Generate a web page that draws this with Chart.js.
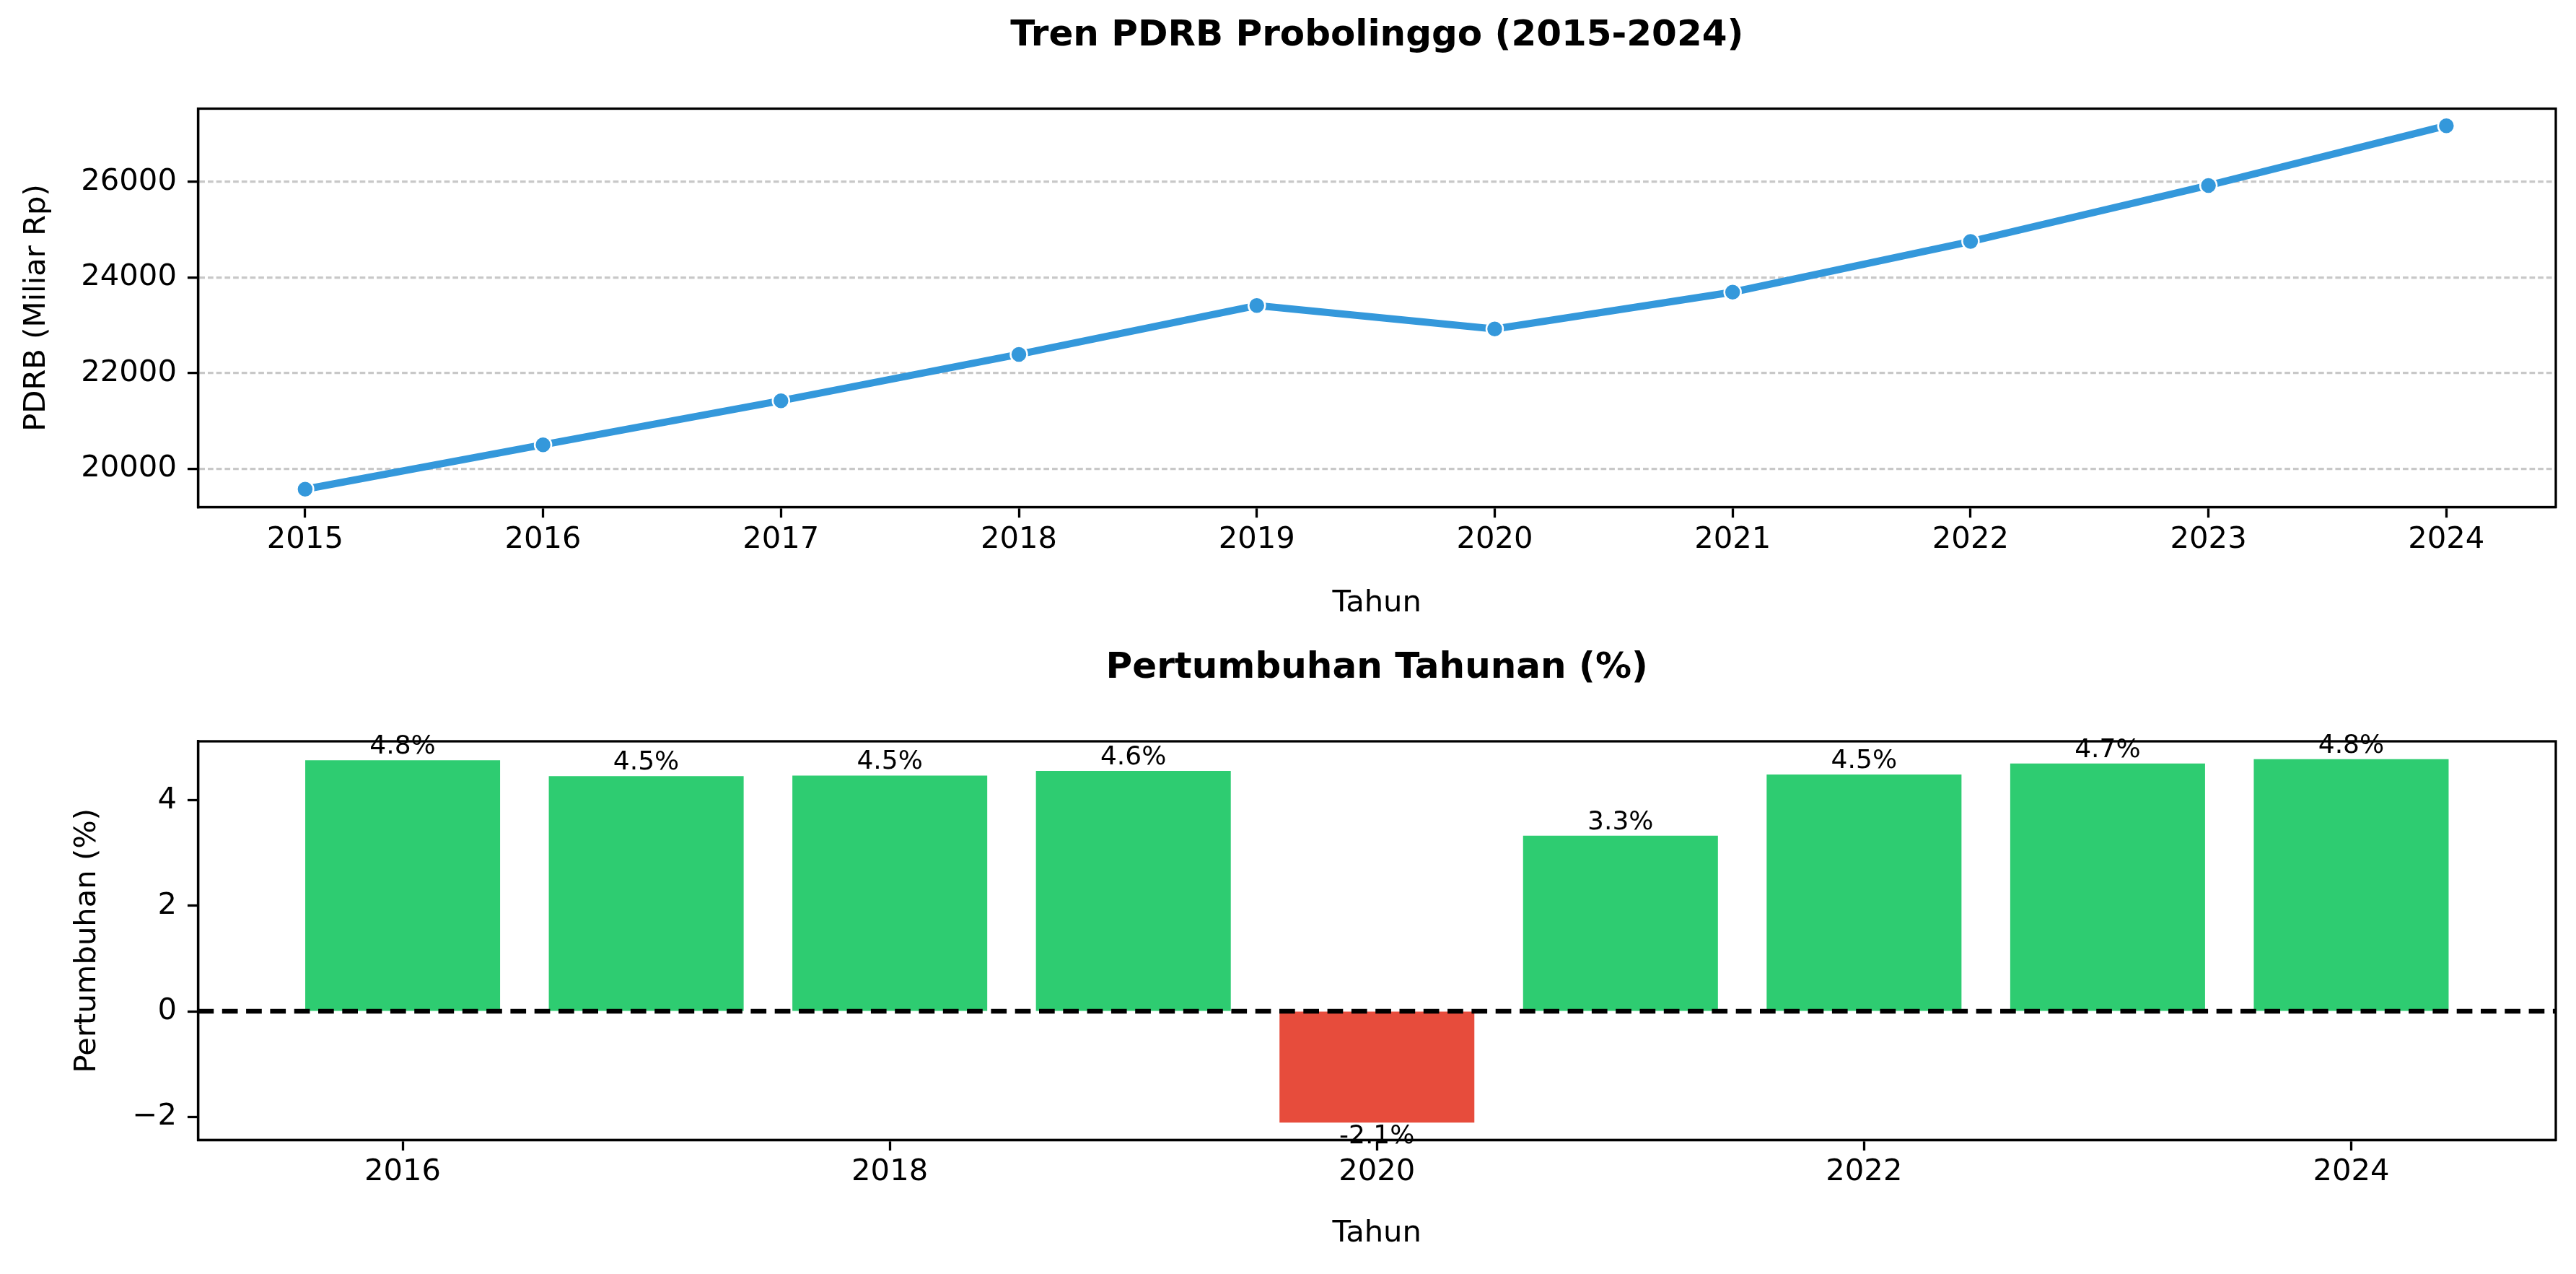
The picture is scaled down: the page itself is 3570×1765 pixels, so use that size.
<!DOCTYPE html>
<html lang="id">
<head>
    <meta charset="UTF-8">
    <title>Tren PDRB Probolinggo (2015-2024)</title>
    <script src="https://cdn.jsdelivr.net/npm/chart.js"></script>
    <style>
        html, body {
            margin: 0;
            padding: 0;
            background: #fff;
        }
        .figure {
            position: relative;
            width: 3570px;
            height: 1765px;
        }
        .panel {
            position: absolute;
            left: 0;
            width: 3570px;
        }
        #trendBox { top: 0; height: 880px; }
        #growthBox { top: 880px; height: 885px; }
    </style>
</head>
<body>
    <div class="figure">
        <div class="panel" id="trendBox"><canvas id="trendChart"></canvas></div>
        <div class="panel" id="growthBox"><canvas id="growthChart"></canvas></div>
    </div>

    <script>
    // --- data ---
    const years = [2015, 2016, 2017, 2018, 2019, 2020, 2021, 2022, 2023, 2024];
    const pdrbValues = [19570, 20500, 21420, 22390, 23410, 22920, 23690, 24750, 25920, 27170];
    const pdrbTicks = [20000, 22000, 24000, 26000];

    const growthYears = [2016, 2017, 2018, 2019, 2020, 2021, 2022, 2023, 2024];
    const growthValues = [4.76, 4.46, 4.47, 4.56, -2.11, 3.33, 4.49, 4.70, 4.78];
    const growthTicks = [-2, 0, 2, 4];
    const growthYearTicks = [2016, 2018, 2020, 2022, 2024];

    // --- shared look (matplotlib-ish at 300 dpi) ---
    Chart.defaults.font.family = "'DejaVu Sans', sans-serif";
    Chart.defaults.color = '#000';
    Chart.defaults.animation = false;

    const TICK_FONT = 41.7;
    const SPINE_W = 3.3;
    const TICK_LEN = 14.6;

    function fixedTicks(values) {
        return scale => { scale.ticks = values.map(v => ({ value: v })); };
    }

    function fmtMinus(v) {
        return v < 0 ? '\u2212' + Math.abs(v) : String(v);
    }

    // box around the plot area, like matplotlib spines
    const framePlugin = {
        id: 'frame',
        afterDraw(chart) {
            const { ctx, chartArea: a } = chart;
            ctx.save();
            ctx.strokeStyle = '#000';
            ctx.lineWidth = SPINE_W;
            ctx.strokeRect(a.left, a.top, a.right - a.left, a.bottom - a.top);
            ctx.restore();
        }
    };

    // dashed line at zero
    const zeroLinePlugin = {
        id: 'zeroLine',
        afterDatasetsDraw(chart) {
            const { ctx, chartArea: a } = chart;
            const y = chart.scales.y.getPixelForValue(0);
            ctx.save();
            ctx.strokeStyle = '#000';
            ctx.lineWidth = 6.5;
            ctx.setLineDash([21.7, 11.6]);
            ctx.beginPath();
            ctx.moveTo(a.left, y);
            ctx.lineTo(a.right, y);
            ctx.stroke();
            ctx.restore();
        }
    };

    // "4.8%" labels on the bars
    const barLabelPlugin = {
        id: 'barLabels',
        afterDatasetsDraw(chart) {
            const { ctx } = chart;
            const meta = chart.getDatasetMeta(0);
            ctx.save();
            ctx.font = "36px 'DejaVu Sans', sans-serif";
            ctx.fillStyle = '#000';
            ctx.textAlign = 'center';
            ctx.textBaseline = 'alphabetic';
            meta.data.forEach((bar, i) => {
                const v = growthValues[i];
                const text = v.toFixed(1) + '%';
                const y = v >= 0 ? bar.y - 9 : bar.y + 28.5;
                ctx.fillText(text, bar.x, y);
            });
            ctx.restore();
        }
    };

    // --- top: PDRB trend line ---
    new Chart(document.getElementById('trendChart'), {
        type: 'line',
        data: {
            datasets: [{
                data: years.map((y, i) => ({ x: y, y: pdrbValues[i] })),
                borderColor: '#3498db',
                borderWidth: 10,
                tension: 0,
                pointRadius: 11.5,
                pointBackgroundColor: '#3498db',
                pointBorderColor: '#fff',
                pointBorderWidth: 2.5
            }]
        },
        options: {
            responsive: true,
            maintainAspectRatio: false,
            devicePixelRatio: 1,
            events: [],
            layout: { padding: { left: 0, right: 28, top: 0, bottom: 0 } },
            plugins: {
                legend: { display: false },
                tooltip: { enabled: false },
                title: {
                    display: true,
                    text: 'Tren PDRB Probolinggo (2015-2024)',
                    fullSize: false,
                    color: '#000',
                    font: { size: 50, weight: 'bold' },
                    padding: { top: 20.5, bottom: 70 }
                }
            },
            scales: {
                x: {
                    type: 'linear',
                    min: 2014.55,
                    max: 2024.46,
                    afterBuildTicks: fixedTicks(years),
                    afterFit: s => { s.height = 880 - 702.5; },
                    ticks: {
                        font: { size: TICK_FONT },
                        padding: 6,
                        maxRotation: 0,
                        autoSkip: false,
                        callback: v => String(v)
                    },
                    grid: {
                        drawOnChartArea: false,
                        tickLength: TICK_LEN,
                        tickWidth: SPINE_W,
                        tickColor: '#000'
                    },
                    border: { display: true, color: '#000', width: SPINE_W },
                    title: {
                        display: true,
                        text: 'Tahun',
                        font: { size: TICK_FONT },
                        padding: { top: 0, bottom: 19 }
                    }
                },
                y: {
                    type: 'linear',
                    min: 19197,
                    max: 27527,
                    afterBuildTicks: fixedTicks(pdrbTicks),
                    afterFit: s => { s.width = 274.5; },
                    ticks: {
                        font: { size: TICK_FONT },
                        padding: 15,
                        callback: v => String(v)
                    },
                    grid: {
                        color: '#c8c8c8',
                        lineWidth: 3.3,
                        tickLength: TICK_LEN,
                        tickWidth: SPINE_W,
                        tickColor: '#000'
                    },
                    border: { display: true, color: '#000', width: SPINE_W, dash: [7.7, 4] },
                    title: {
                        display: true,
                        text: 'PDRB (Miliar Rp)',
                        font: { size: TICK_FONT },
                        padding: { top: 26, bottom: 0 }
                    }
                }
            }
        },
        plugins: [framePlugin]
    });

    // --- bottom: yearly growth bars ---
    new Chart(document.getElementById('growthChart'), {
        type: 'bar',
        data: {
            datasets: [{
                data: growthYears.map((y, i) => ({ x: y, y: growthValues[i] })),
                backgroundColor: growthValues.map(v => v >= 0 ? '#2ecc71' : '#e74c3c'),
                borderWidth: 0,
                barPercentage: 0.8,
                categoryPercentage: 1.0
            }]
        },
        options: {
            responsive: true,
            maintainAspectRatio: false,
            devicePixelRatio: 1,
            events: [],
            layout: { padding: { left: 0, right: 28, top: 0, bottom: 0 } },
            plugins: {
                legend: { display: false },
                tooltip: { enabled: false },
                title: {
                    display: true,
                    text: 'Pertumbuhan Tahunan (%)',
                    fullSize: false,
                    color: '#000',
                    font: { size: 50, weight: 'bold' },
                    padding: { top: 16.5, bottom: 70.5 }
                }
            },
            scales: {
                x: {
                    type: 'linear',
                    offset: false,
                    min: 2015.16,
                    max: 2024.84,
                    afterBuildTicks: fixedTicks(growthYearTicks),
                    afterFit: s => { s.height = 885 - 699.3; },
                    ticks: {
                        font: { size: TICK_FONT },
                        padding: 5,
                        maxRotation: 0,
                        autoSkip: false,
                        callback: v => String(v)
                    },
                    grid: {
                        offset: false,
                        drawOnChartArea: false,
                        tickLength: TICK_LEN,
                        tickWidth: SPINE_W,
                        tickColor: '#000'
                    },
                    border: { display: true, color: '#000', width: SPINE_W },
                    title: {
                        display: true,
                        text: 'Tahun',
                        font: { size: TICK_FONT },
                        padding: { top: 0, bottom: 31 }
                    }
                },
                y: {
                    type: 'linear',
                    min: -2.44,
                    max: 5.12,
                    afterBuildTicks: fixedTicks(growthTicks),
                    afterFit: s => { s.width = 274.5; },
                    ticks: {
                        font: { size: TICK_FONT },
                        padding: 15,
                        callback: v => fmtMinus(v)
                    },
                    grid: {
                        drawOnChartArea: false,
                        tickLength: TICK_LEN,
                        tickWidth: SPINE_W,
                        tickColor: '#000'
                    },
                    border: { display: true, color: '#000', width: SPINE_W },
                    title: {
                        display: true,
                        text: 'Pertumbuhan (%)',
                        font: { size: TICK_FONT },
                        padding: { top: 96.4, bottom: 0 }
                    }
                }
            }
        },
        plugins: [zeroLinePlugin, barLabelPlugin, framePlugin]
    });
    </script>
</body>
</html>
